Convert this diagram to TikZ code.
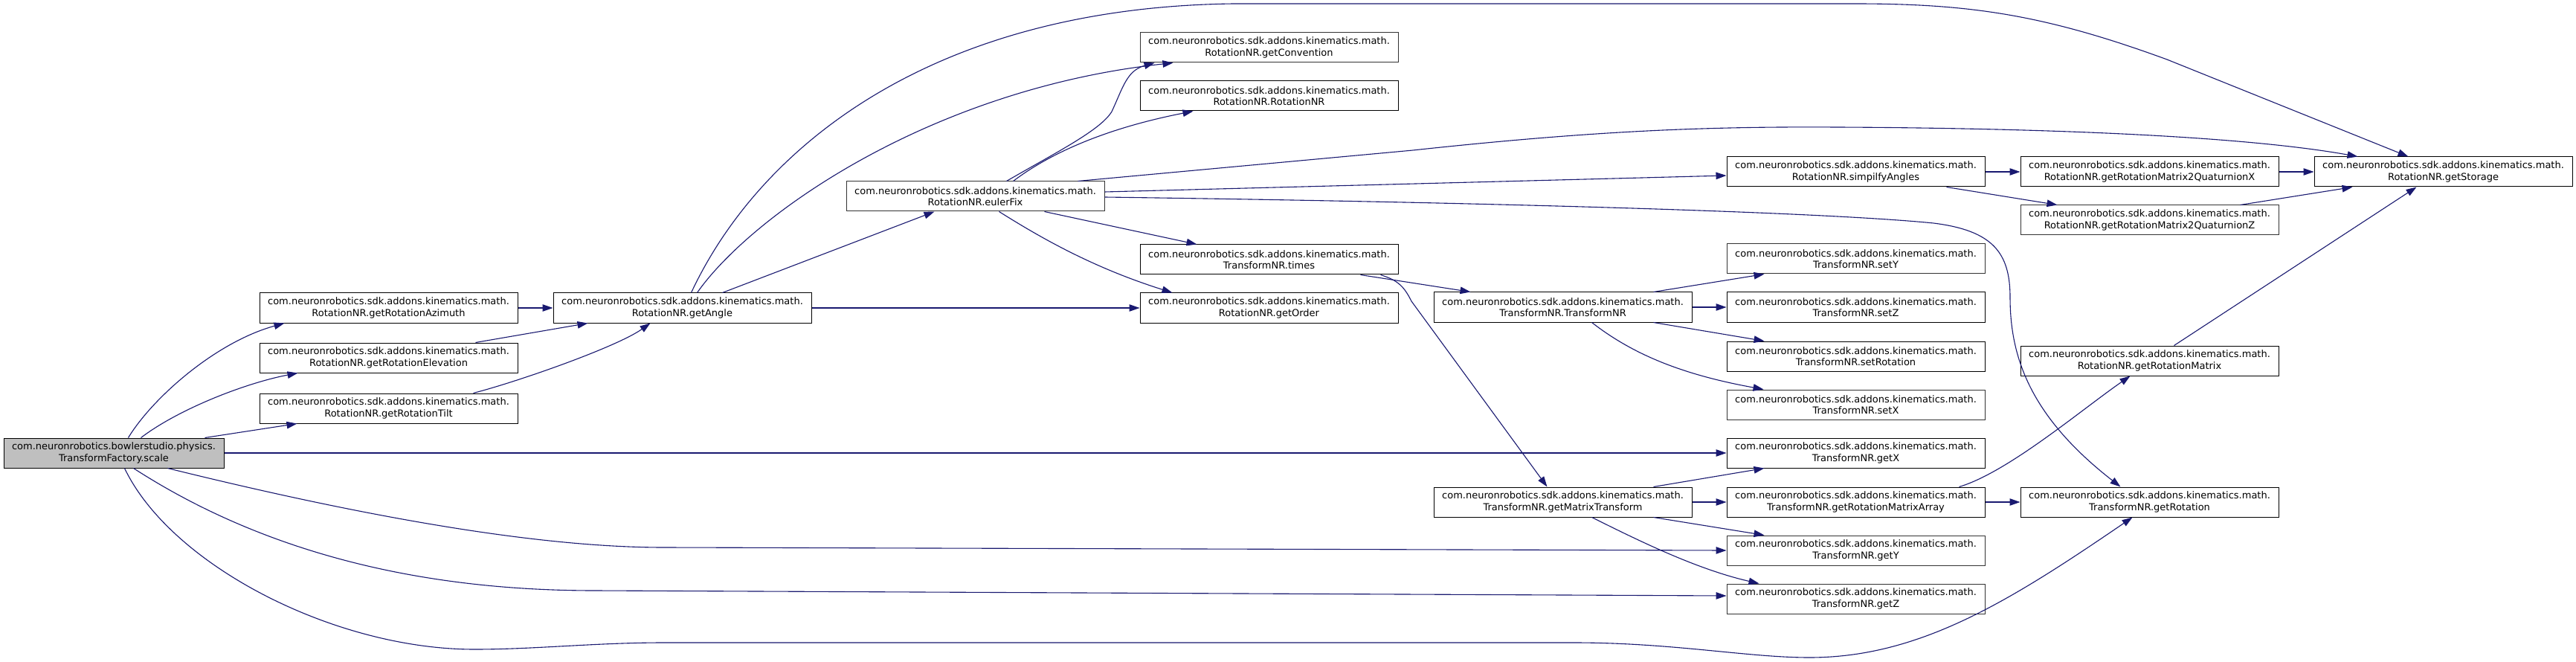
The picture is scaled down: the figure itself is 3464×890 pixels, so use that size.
\documentclass[tikz,border=0pt]{standalone}
\usepackage{fontspec}
\setmainfont{DejaVu Sans}
\usetikzlibrary{arrows.meta,calc}
\definecolor{edgec}{HTML}{191970}
\definecolor{greyline}{HTML}{333333}
\definecolor{rootfill}{HTML}{BFBFBF}
\tikzset{
  fn/.style={draw=black, fill=white, line width=1.0pt, minimum width=347pt, minimum height=40pt,
    inner sep=0pt, align=center, font=\fontsize{13pt}{15.3pt}\selectfont},
  gfn/.style={fn, draw=greyline},
  rootn/.style={fn, fill=rootfill, minimum width=296pt},
  e/.style={draw=edgec, line width=1.1pt, -{Triangle[length=14pt,width=9.5pt]}}
}
\newcommand{\pk}{com.neuronrobotics.sdk.addons.kinematics.math.}
\begin{document}
\begin{tikzpicture}[x=1pt,y=-1pt]
\useasboundingbox (0,0) rectangle (3464,890);
\fill[white] (0,0) rectangle (3464,890);
% nodes
\node[rootn] (scale) at (153,609) {com.neuronrobotics.bowlerstudio.physics.\\TransformFactory.scale};
\node[fn] (az) at (522.5,414) {\pk\\RotationNR.getRotationAzimuth};
\node[fn] (el) at (522.5,481) {\pk\\RotationNR.getRotationElevation};
\node[fn] (tilt) at (522.5,549) {\pk\\RotationNR.getRotationTilt};
\node[fn] (angle) at (917.5,414) {\pk\\RotationNR.getAngle};
\node[gfn] (euler) at (1311.5,264) {\pk\\RotationNR.eulerFix};
\node[gfn] (conv) at (1706.5,64) {\pk\\RotationNR.getConvention};
\node[fn] (rnr) at (1706.5,129) {\pk\\RotationNR.RotationNR};
\node[fn] (times) at (1706.5,349) {\pk\\TransformNR.times};
\node[fn] (order) at (1706.5,414) {\pk\\RotationNR.getOrder};
\node[fn] (tnr) at (2101.5,413) {\pk\\TransformNR.TransformNR};
\node[fn] (gmt) at (2101.5,675) {\pk\\TransformNR.getMatrixTransform};
\node[fn] (simp) at (2495.5,231) {\pk\\RotationNR.simpilfyAngles};
\node[gfn] (setY) at (2495.5,348) {\pk\\TransformNR.setY};
\node[fn] (setZ) at (2495.5,413) {\pk\\TransformNR.setZ};
\node[fn] (setRot) at (2495.5,479) {\pk\\TransformNR.setRotation};
\node[gfn] (setX) at (2495.5,544) {\pk\\TransformNR.setX};
\node[fn] (getX) at (2495.5,609) {\pk\\TransformNR.getX};
\node[fn] (grma) at (2495.5,675) {\pk\\TransformNR.getRotationMatrixArray};
\node[gfn] (getY) at (2495.5,740) {\pk\\TransformNR.getY};
\node[gfn] (getZ) at (2495.5,805) {\pk\\TransformNR.getZ};
\node[fn] (qx) at (2890.5,231) {\pk\\RotationNR.getRotationMatrix2QuaturnionX};
\node[gfn] (qz) at (2890.5,296) {\pk\\RotationNR.getRotationMatrix2QuaturnionZ};
\node[fn] (grm) at (2890.5,485) {\pk\\RotationNR.getRotationMatrix};
\node[fn] (grot) at (2890.5,675) {\pk\\TransformNR.getRotation};
\node[fn] (stor) at (3285.5,231) {\pk\\RotationNR.getStorage};
% edges from scale
\draw[e] ([xshift=168pt]scale.north west) .. controls (205,535) and (290,460) .. ([xshift=34pt]az.south west);
\draw[e] ([xshift=185pt]scale.north west) .. controls (240,550) and (330,515) .. ([xshift=52pt]el.south west);
\draw[e] ([xshift=271pt]scale.north west) -- ([xshift=51pt]tilt.south west);
\draw[e] (scale.east) -- (getX.west);
\draw[e] ([xshift=221pt]scale.south west) .. controls (511,700) and (734,736) .. (893,736) -- (getY.west);
\draw[e] ([xshift=175pt]scale.south west) .. controls (349,739) and (556,794) .. (800,794) -- ([yshift=4pt]getZ.west);
\draw[e] ([xshift=163pt]scale.south west) .. controls (230,760) and (450,873) .. (638,873)
  .. controls (720,873) and (800,864) .. (893,864) -- (2116,864)
  .. controls (2250,864) and (2350,884) .. (2433,884)
  .. controls (2580,884) and (2700,810) .. ([xshift=151pt]grot.south west);
% rotation getters to getAngle
\draw[e] (az.east) -- (angle.west);
\draw[e] ([xshift=291pt]el.north west) -- ([xshift=47pt]angle.south west);
\draw[e] ([xshift=288pt]tilt.north west) .. controls (700,512) and (830,466) .. ([xshift=131pt]angle.south west);
% getAngle
\draw[e] ([xshift=186pt]angle.north west) .. controls (1020,200) and (1250,10) .. (1659,5) -- (2494,5)
  .. controls (2650,5) and (2750,20) .. (2914,80) -- ([xshift=127pt]stor.north west);
\draw[e] ([xshift=194pt]angle.north west) .. controls (1010,290) and (1250,120) .. ([xshift=45pt]conv.south west);
\draw[e] ([xshift=228pt]angle.north west) -- ([xshift=119pt]euler.south west);
\draw[e] (angle.east) -- (order.west);
% eulerFix
\draw[e] ([xshift=216pt]euler.north west) .. controls (1420,205) and (1480,175) .. (1495,150)
  .. controls (1510,118) and (1515,95) .. ([xshift=20pt]conv.south west);
\draw[e] ([xshift=225pt]euler.north west) .. controls (1420,200) and (1500,170) .. ([xshift=72pt]rnr.south west);
\draw[e] ([xshift=312pt]euler.north west) -- (1900,202) .. controls (2150,175) and (2300,170) .. (2470,171)
  .. controls (2700,172) and (3000,180) .. ([xshift=59pt]stor.north west);
\draw[e] ([yshift=6pt]euler.east) -- ([yshift=-5pt]simp.west);
\draw[e] ([yshift=-1pt]euler.east) .. controls (2000,272) and (2450,285) .. (2600,300)
  .. controls (2680,310) and (2703,340) .. (2703,400)
  .. controls (2703,480) and (2730,560) .. ([xshift=135pt]grot.north west);
\draw[e] ([xshift=267pt]euler.south west) -- ([xshift=77pt]times.north west);
\draw[e] ([xshift=206pt]euler.south west) .. controls (1400,320) and (1470,360) .. ([xshift=44pt]order.north west);
% times
\draw[e] ([xshift=297pt]times.south west) -- ([xshift=50pt]tnr.north west);
\draw[e] ([xshift=324pt]times.south west) .. controls (1880,377) and (1888,385) .. (1898,405) -- ([xshift=153pt]gmt.north west);
% simpilfyAngles
\draw[e] (simp.east) -- (qx.west);
\draw[e] ([xshift=296pt]simp.south west) -- ([xshift=50pt]qz.north west);
\draw[e] (qx.east) -- (stor.west);
\draw[e] ([xshift=296pt]qz.north west) -- ([xshift=52pt]stor.south west);
% TransformNR
\draw[e] ([xshift=296pt]tnr.north west) -- ([xshift=51pt]setY.south west);
\draw[e] (tnr.east) -- (setZ.west);
\draw[e] ([xshift=296pt]tnr.south west) -- ([xshift=51pt]setRot.north west);
\draw[e] ([xshift=213pt]tnr.south west) .. controls (2200,480) and (2270,505) .. ([xshift=50pt]setX.north west);
% getMatrixTransform
\draw[e] ([xshift=296pt]gmt.north west) -- ([xshift=51pt]getX.south west);
\draw[e] (gmt.east) -- (grma.west);
\draw[e] ([xshift=296pt]gmt.south west) -- ([xshift=51pt]getY.north west);
\draw[e] ([xshift=213pt]gmt.south west) .. controls (2200,725) and (2280,765) .. ([xshift=44pt]getZ.north west);
% getRotationMatrixArray
\draw[e] (grma.east) -- (grot.west);
\draw[e] ([xshift=313pt]grma.north west) .. controls (2700,635) and (2800,550) .. ([xshift=148pt]grm.south west);
\draw[e] ([xshift=207pt]grm.north west) -- ([xshift=138pt]stor.south west);
\end{tikzpicture}
\end{document}
